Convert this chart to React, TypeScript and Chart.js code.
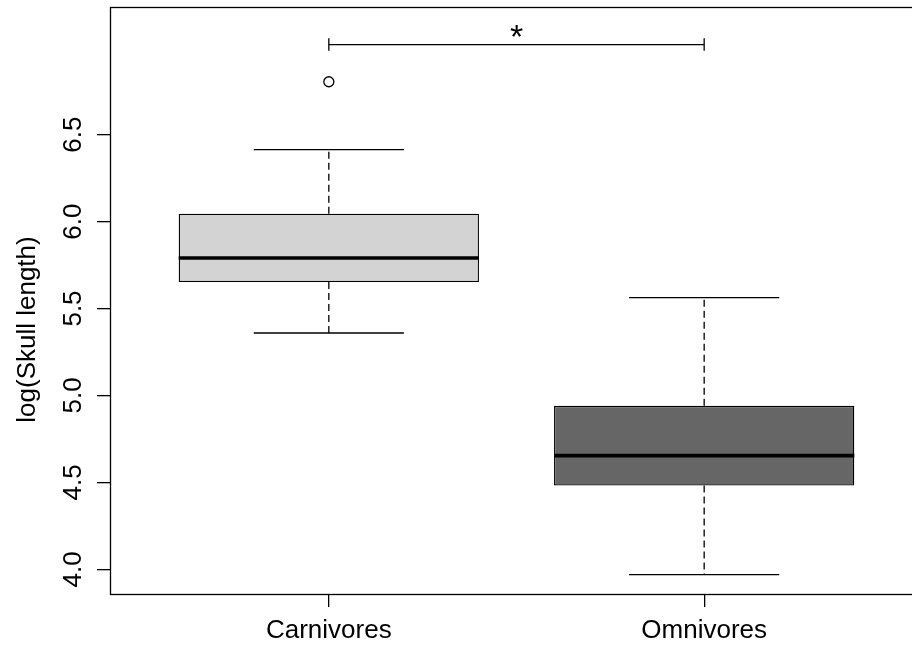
import React, { useEffect, useRef } from "react";
import { Chart, registerables } from "chart.js";

Chart.register(...registerables);

// ---- data ----
const categories = ["Carnivores", "Omnivores"];
const groupPositions = [1, 2];
const whiskerLow = [5.359, 3.969];
const quartile1 = [5.652, 4.482];
const medians = [5.79, 4.654];
const quartile3 = [6.045, 4.94];
const whiskerHigh = [6.414, 5.562];
const outlierGroups = [1];
const outlierValues = [6.804];
const yTickValues = [4.0, 4.5, 5.0, 5.5, 6.0, 6.5];
const bracketGroups = [1, 2];
const bracketValue = 7.018;
const bracketTickHalf = 0.036;
const significanceLabel = "*";
const yTitle = "log(Skull length)";
const yRange = [3.858, 7.234];
const xRange = [0.417, 2.583];

// ---- styles ----
const FONT = "'Liberation Sans', Arial, Helvetica, sans-serif";
const FONT_SIZE = 26;
const LINE_W = 1.3;
const boxColors = ["#d3d3d3", "#666666"];
const BOX_HALF = 0.4;
const CAP_HALF = 0.2;

function seg(points: { x: number; y: number }[], width = LINE_W, dash: number[] = []) {
  return {
    type: "line" as const,
    data: points,
    borderColor: "#000",
    borderWidth: width,
    borderDash: dash,
    pointRadius: 0,
    fill: false,
    tension: 0,
    order: 0,
  };
}

const framePlugin = {
  id: "frameAndText",
  afterDraw(chart: any) {
    const { ctx, chartArea, scales } = chart;
    ctx.save();
    ctx.strokeStyle = "#000";
    ctx.lineWidth = LINE_W;
    ctx.strokeRect(chartArea.left + 0.5, chartArea.top + 0.5, chartArea.right - chartArea.left, chartArea.bottom - chartArea.top);
    ctx.fillStyle = "#000";
    ctx.textAlign = "center";
    ctx.textBaseline = "alphabetic";
    ctx.font = `34px ${FONT}`;
    const sx = scales.x.getPixelForValue((bracketGroups[0] + bracketGroups[1]) / 2);
    const sy = scales.y.getPixelForValue(bracketValue) + 3;
    ctx.fillText(significanceLabel, sx, sy);
    ctx.font = `${FONT_SIZE}px ${FONT}`;
    const cy = scales.y.getPixelForValue((yRange[0] + yRange[1]) / 2) + 29;
    ctx.translate(34.5, cy);
    ctx.rotate(-Math.PI / 2);
    ctx.fillText(yTitle, 0, 0);
    ctx.restore();
  },
};

export default function App() {
  const ref = useRef<HTMLCanvasElement | null>(null);

  useEffect(() => {
    if (!ref.current) return;
    const datasets: any[] = [];

    datasets.push({
      type: "bar",
      data: groupPositions.map((p, i) => ({ x: p, y: [quartile1[i], quartile3[i]] })),
      backgroundColor: boxColors,
      borderColor: "#000",
      borderWidth: LINE_W,
      borderSkipped: false,
      barPercentage: 0.8,
      categoryPercentage: 1,
      order: 10,
    });

    groupPositions.forEach((p, i) => {
      datasets.push(seg([{ x: p - BOX_HALF, y: medians[i] }, { x: p + BOX_HALF, y: medians[i] }], 3.6));
      datasets.push(seg([{ x: p, y: quartile3[i] }, { x: p, y: whiskerHigh[i] }], LINE_W, [7, 4]));
      datasets.push(seg([{ x: p, y: quartile1[i] }, { x: p, y: whiskerLow[i] }], LINE_W, [7, 4]));
      datasets.push(seg([{ x: p - CAP_HALF, y: whiskerHigh[i] }, { x: p + CAP_HALF, y: whiskerHigh[i] }]));
      datasets.push(seg([{ x: p - CAP_HALF, y: whiskerLow[i] }, { x: p + CAP_HALF, y: whiskerLow[i] }]));
    });

    datasets.push(seg([{ x: bracketGroups[0], y: bracketValue }, { x: bracketGroups[1], y: bracketValue }]));
    bracketGroups.forEach((g) => {
      datasets.push(seg([{ x: g, y: bracketValue - bracketTickHalf }, { x: g, y: bracketValue + bracketTickHalf }]));
    });

    datasets.push({
      type: "scatter",
      data: outlierGroups.map((g, i) => ({ x: g, y: outlierValues[i] })),
      pointStyle: "circle",
      pointRadius: 5,
      pointBorderColor: "#000",
      pointBackgroundColor: "rgba(0,0,0,0)",
      pointBorderWidth: LINE_W,
      order: 0,
    });

    const chart = new Chart(ref.current, {
      type: "bar",
      data: { datasets },
      options: {
        animation: false,
        responsive: false,
        layout: { padding: { left: 0, top: 7, right: 7, bottom: 0 } },
        plugins: { legend: { display: false }, tooltip: { enabled: false } },
        scales: {
          x: {
            type: "linear",
            offset: false,
            min: xRange[0],
            max: xRange[1],
            afterBuildTicks: (s: any) => {
              s.ticks = groupPositions.map((v) => ({ value: v }));
            },
            afterFit: (s: any) => {
              s.height = 55;
              s.paddingLeft = 0;
              s.paddingRight = 0;
            },
            ticks: {
              font: { family: FONT, size: FONT_SIZE },
              color: "#000",
              padding: 8,
              maxRotation: 0,
              autoSkip: false,
              callback: (v: any) => {
                const idx = groupPositions.indexOf(Number(v));
                return idx >= 0 ? categories[idx] : "";
              },
            },
            grid: { offset: false, drawOnChartArea: false, drawTicks: true, tickLength: 13, color: "#000", lineWidth: LINE_W },
            border: { display: false },
          },
          y: {
            type: "linear",
            min: yRange[0],
            max: yRange[1],
            afterBuildTicks: (s: any) => {
              s.ticks = yTickValues.map((v) => ({ value: v }));
            },
            afterFit: (s: any) => {
              s.width = 110;
              s.paddingTop = 0;
              s.paddingBottom = 0;
            },
            ticks: {
              font: { family: FONT, size: FONT_SIZE },
              color: "#000",
              padding: 5,
              minRotation: 90,
              maxRotation: 90,
              crossAlign: "center",
              autoSkip: false,
              callback: (v: any) => Number(v).toFixed(1),
            },
            grid: { drawOnChartArea: false, drawTicks: true, tickLength: 13, color: "#000", lineWidth: LINE_W },
            border: { display: false },
          },
        },
      } as any,
      plugins: [framePlugin],
    });
    return () => chart.destroy();
  }, []);

  return (
    <div style={{ position: "fixed", left: 0, top: 0, width: 912, height: 649, overflow: "hidden", background: "#fff" }}>
      <canvas ref={ref} width={930} height={649} style={{ display: "block" }} />
    </div>
  );
}
